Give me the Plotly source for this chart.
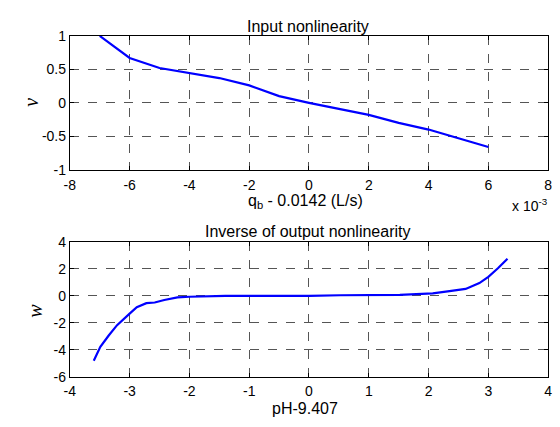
import plotly.graph_objects as go

# Top: input nonlinearity (x in units of 1e-3 L/s)
q_dev = [-7, -6, -5, -4, -3, -2, -1, 0, 1, 2, 3, 4, 5, 6]
v_vals = [1.0, 0.67, 0.52, 0.45, 0.37, 0.26, 0.10, 0.0, -0.09, -0.18, -0.30, -0.40, -0.53, -0.66]

# Bottom: inverse of output nonlinearity
ph_dev = [-3.6, -3.49, -3.35, -3.21, -3.0, -2.88, -2.72, -2.58, -2.42, -2.2, -2.0, -1.5, -1.4,
          0.0, 0.5, 0.52, 1.52, 1.85, 2.07, 2.35, 2.62, 2.85, 3.0, 3.16, 3.32]
w_vals = [-4.82, -3.79, -2.95, -2.18, -1.32, -0.84, -0.55, -0.5, -0.31, -0.12, -0.07, -0.04, 0.0,
          0.0, 0.0, 0.04, 0.07, 0.11, 0.18, 0.35, 0.51, 0.94, 1.41, 2.04, 2.75]

top_xticks = [-8, -6, -4, -2, 0, 2, 4, 6, 8]
top_xlabels = ["-8", "-6", "-4", "-2", "0", "2", "4", "6", "8"]
top_yticks = [-1, -0.5, 0, 0.5, 1]
top_ylabels = ["-1", "-0.5", "0", "0.5", "1"]
bot_xticks = [-4, -3, -2, -1, 0, 1, 2, 3, 4]
bot_xlabels = ["-4", "-3", "-2", "-1", "0", "1", "2", "3", "4"]
bot_yticks = [-6, -4, -2, 0, 2, 4]
bot_ylabels = ["-6", "-4", "-2", "0", "2", "4"]

W, H = 560, 427
x0, x1 = 65, 552
top_y0, top_y1 = 29, 168
bot_y0, bot_y1 = 243, 383

fig = go.Figure()
fig.add_trace(go.Scatter(x=q_dev, y=v_vals, mode="lines",
                         line=dict(color="#0000ff", width=2.2), xaxis="x", yaxis="y"))
fig.add_trace(go.Scatter(x=ph_dev, y=w_vals, mode="lines",
                         line=dict(color="#0000ff", width=2.2), xaxis="x2", yaxis="y2"))

font = "Liberation Sans, Arial, Helvetica, sans-serif"
serif = "Liberation Serif, Times New Roman, serif"
axcommon = dict(showline=True, linecolor="black", linewidth=1, mirror="ticks",
                ticks="inside", ticklen=4, tickcolor="black",
                showgrid=True, gridcolor="#555555", griddash="dash", gridwidth=1,
                zeroline=False, tickfont=dict(family=font, size=14, color="black"))

dx = [x0 / W, x1 / W]
fig.update_layout(
    width=W, height=H, margin=dict(l=0, r=0, t=0, b=0),
    paper_bgcolor="white", plot_bgcolor="white", showlegend=False,
    xaxis=dict(domain=dx, range=[-8, 8], tickvals=top_xticks, ticktext=top_xlabels,
               anchor="y", ticklabelstandoff=2, **axcommon),
    yaxis=dict(domain=[1 - top_y1 / H, 1 - top_y0 / H], range=[-1, 1],
               tickvals=top_yticks, ticktext=top_ylabels, anchor="x", **axcommon),
    xaxis2=dict(domain=dx, range=[-4, 4], tickvals=bot_xticks, ticktext=bot_xlabels,
                anchor="y2", ticklabelstandoff=2, **axcommon),
    yaxis2=dict(domain=[1 - bot_y1 / H, 1 - bot_y0 / H], range=[-6, 4],
                tickvals=bot_yticks, ticktext=bot_ylabels, anchor="x2", **axcommon),
)

ann = [
    dict(text="Input nonlinearity", x=307, y=19, size=16, fam=font, ang=0),
    dict(text="q<sub>b</sub> - 0.0142 (L/s)", x=305, y=201, size=16, fam=font, ang=0),
    dict(text="Inverse of output nonlinearity", x=307, y=232, size=16, fam=font, ang=0),
    dict(text="pH-9.407", x=304, y=416, size=16, fam=font, ang=0),
    dict(text="x 10<sup>-3</sup>", x=534, y=205, size=14, fam=font, ang=0),
    dict(text="<i>v</i>", x=26, y=98, size=20, fam=serif, ang=-90),
    dict(text="<i>w</i>", x=30, y=314, size=20, fam=serif, ang=-90),
]
for a in ann:
    fig.add_annotation(text=a["text"], x=a["x"] / W, y=1 - a["y"] / H, xref="paper", yref="paper",
                       xanchor="center", yanchor="middle", showarrow=False, textangle=a["ang"],
                       font=dict(family=a["fam"], size=a["size"], color="black"))

fig.write_html("out.html")
